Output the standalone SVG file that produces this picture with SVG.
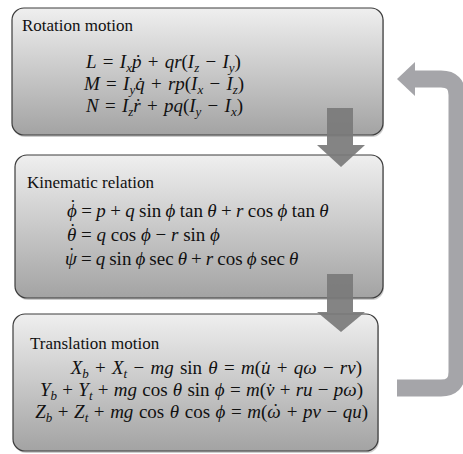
<svg xmlns="http://www.w3.org/2000/svg" width="463" height="454" viewBox="0 0 463 454">
<defs>
<linearGradient id="g" x1="0" y1="0" x2="0" y2="1">
<stop offset="0" stop-color="#efefef"/>
<stop offset="1" stop-color="#a3a3a3"/>
</linearGradient>
<style>
.box{fill:url(#g);stroke:#3c3c3c;stroke-width:1.2}
.shadow{fill:#6e6e6e;opacity:0.35}
.title{font-family:"Liberation Serif","Times New Roman","DejaVu Serif",serif;font-size:17px;fill:#111}
.eq{font-family:"Liberation Serif","Times New Roman","DejaVu Serif",serif;font-size:19px;fill:#111;word-spacing:1.5px}
.k{word-spacing:0px}
.i{font-style:italic}
.s{font-style:italic;font-size:13px}
.down{fill:#7a7a7a;opacity:0.92}
.fb{fill:none;stroke:#a5a5a9;stroke-width:17}
.fbh{fill:#a5a5a9}
</style>
</defs>
<rect width="463" height="454" fill="#ffffff"/>

<g id="rotation">
<rect class="shadow" x="13" y="10" width="371" height="127" rx="12"/>
<rect class="box" x="12" y="8" width="371" height="127" rx="12"/>
<text class="title" x="22" y="31">Rotation motion</text>
<text class="eq" x="86" y="68"><tspan class="i">L</tspan> = <tspan class="i">I</tspan><tspan class="s" dy="4">x</tspan><tspan class="i" dy="-4">ṗ</tspan> + <tspan class="i">qr</tspan>(<tspan class="i">I</tspan><tspan class="s" dy="4">z</tspan><tspan dy="-4"> − </tspan><tspan class="i">I</tspan><tspan class="s" dy="4">y</tspan><tspan dy="-4">)</tspan></text>
<text class="eq" x="84" y="90"><tspan class="i">M</tspan> = <tspan class="i">I</tspan><tspan class="s" dy="4">y</tspan><tspan class="i" dy="-4">q̇</tspan> + <tspan class="i">rp</tspan>(<tspan class="i">I</tspan><tspan class="s" dy="4">x</tspan><tspan dy="-4"> − </tspan><tspan class="i">I</tspan><tspan class="s" dy="4">z</tspan><tspan dy="-4">)</tspan></text>
<text class="eq" x="86" y="112"><tspan class="i">N</tspan> = <tspan class="i">I</tspan><tspan class="s" dy="4">z</tspan><tspan class="i" dy="-4">ṙ</tspan> + <tspan class="i">pq</tspan>(<tspan class="i">I</tspan><tspan class="s" dy="4">y</tspan><tspan dy="-4"> − </tspan><tspan class="i">I</tspan><tspan class="s" dy="4">x</tspan><tspan dy="-4">)</tspan></text>
</g>

<g id="kinematic">
<rect class="shadow" x="16" y="157" width="368" height="143" rx="12"/>
<rect class="box" x="15" y="155" width="368" height="143" rx="12"/>
<text class="title" x="27" y="188">Kinematic relation</text>
<text class="eq k" x="67" y="217" style="word-spacing:-0.4px"><tspan class="i">ϕ</tspan><tspan dx="-7.2" dy="-4">˙</tspan><tspan dx="0.9" dy="4"> = </tspan><tspan class="i">p</tspan> + <tspan class="i">q</tspan> sin <tspan class="i">ϕ</tspan> tan <tspan class="i">θ</tspan> + <tspan class="i">r</tspan> cos <tspan class="i">ϕ</tspan> tan <tspan class="i">θ</tspan></text>
<text class="eq k" x="67" y="241"><tspan class="i">θ</tspan><tspan dx="-6.9" dy="-4">˙</tspan><tspan dx="0.6" dy="4"> = </tspan><tspan class="i">q</tspan> cos <tspan class="i">ϕ</tspan> − <tspan class="i">r</tspan> sin <tspan class="i">ϕ</tspan></text>
<text class="eq k" x="65" y="265" style="word-spacing:-0.7px"><tspan class="i">ψ</tspan><tspan dx="-8.3" dy="-4">˙</tspan><tspan dx="2" dy="4"> = </tspan><tspan class="i">q</tspan> sin <tspan class="i">ϕ</tspan> sec <tspan class="i">θ</tspan> + <tspan class="i">r</tspan> cos <tspan class="i">ϕ</tspan> sec <tspan class="i">θ</tspan></text>
</g>

<g id="translation">
<rect class="shadow" x="14" y="316" width="365" height="137" rx="12"/>
<rect class="box" x="13" y="314" width="365" height="137" rx="12"/>
<text class="title" x="30" y="349">Translation motion</text>
<text class="eq" x="362" y="374" text-anchor="end"><tspan class="i">X</tspan><tspan class="s" dy="4">b</tspan><tspan dy="-4"> + </tspan><tspan class="i">X</tspan><tspan class="s" dy="4">t</tspan><tspan dy="-4"> − </tspan><tspan class="i">mg</tspan>  sin <tspan class="i">θ</tspan>  = <tspan class="i">m</tspan>(<tspan class="i">u̇</tspan> + <tspan class="i">qω</tspan> − <tspan class="i">rv</tspan>)</text>
<text class="eq" x="363" y="396" text-anchor="end" style="word-spacing:0.5px"><tspan class="i">Y</tspan><tspan class="s" dy="4">b</tspan><tspan dy="-4"> + </tspan><tspan class="i">Y</tspan><tspan class="s" dy="4">t</tspan><tspan dy="-4"> + </tspan><tspan class="i">mg</tspan>  cos <tspan class="i">θ</tspan> sin <tspan class="i">ϕ</tspan> = <tspan class="i">m</tspan>(<tspan class="i">v̇</tspan> + <tspan class="i">ru</tspan> − <tspan class="i">pω</tspan>)</text>
<text class="eq" x="368" y="418" text-anchor="end" style="word-spacing:0.8px"><tspan class="i">Z</tspan><tspan class="s" dy="4">b</tspan><tspan dy="-4"> + </tspan><tspan class="i">Z</tspan><tspan class="s" dy="4">t</tspan><tspan dy="-4"> + </tspan><tspan class="i">mg</tspan>  cos <tspan class="i">θ</tspan> cos <tspan class="i">ϕ</tspan> = <tspan class="i">m</tspan>(<tspan class="i">ω</tspan><tspan dx="-8.2" dy="-1">˙</tspan><tspan dx="2.2" dy="1"> + </tspan><tspan class="i">pv</tspan> − <tspan class="i">qu</tspan>)</text>
</g>

<g id="connectors">
<rect class="down" x="327" y="108" width="26" height="37"/>
<polygon class="down" points="317,145 365,145 341,167"/>
<rect class="down" x="327" y="274" width="26" height="38"/>
<polygon class="down" points="317,312 365,312 341,332"/>
<path class="fb" d="M414 79 H441 Q457 79 457 95 V372 Q457 388 441 388 H397"/>
<polygon class="fbh" points="397,79 415,62 415,96"/>
</g>
</svg>
